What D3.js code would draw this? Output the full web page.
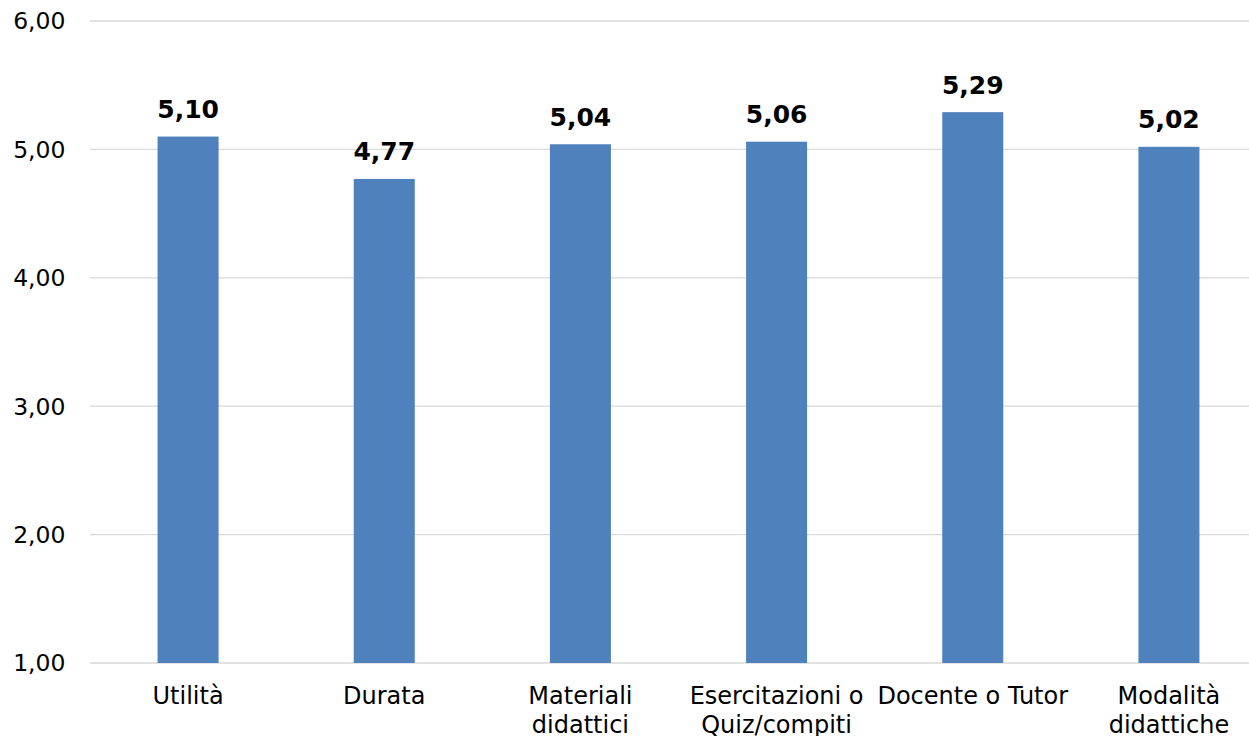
<!DOCTYPE html>
<html><head><meta charset="utf-8">
<script src="https://cdn.jsdelivr.net/npm/d3@7"></script>
<style>body{margin:0;background:#fff;overflow:hidden}svg{display:block}text{font-family:"DejaVu Sans",Verdana,sans-serif}</style>
</head><body>
<svg id="c" width="1249" height="736"></svg>
<script>
const categories = [["Utilità"],["Durata"],["Materiali","didattici"],["Esercitazioni o","Quiz/compiti"],["Docente o Tutor"],["Modalità","didattiche"]];
const values = [5.10, 4.77, 5.04, 5.06, 5.29, 5.02];
const yTicks = [1,2,3,4,5,6];
const fmt = v => v.toFixed(2).replace(".", ",");

const svg = d3.select("#c");
const x = d3.scaleBand().domain(d3.range(categories.length)).range([90, 1267]).paddingInner(0.689).paddingOuter(0.3445);
const y = d3.scaleLinear().domain([1, 6]).range([663, 21]);

svg.append("g").selectAll("line").data(yTicks).join("line")
  .attr("x1", 90).attr("x2", 1267).attr("y1", d => y(d)).attr("y2", d => y(d))
  .attr("stroke", "#d9d9d9").attr("stroke-width", 1.3);

svg.append("g").selectAll("text").data(yTicks).join("text")
  .attr("x", 65.5).attr("y", d => y(d)).attr("dy", "0.36em").attr("text-anchor", "end")
  .attr("font-size", 23.5).attr("fill", "#000").text(d => fmt(d));

svg.append("g").selectAll("rect").data(values).join("rect")
  .attr("x", (d, i) => x(i)).attr("width", x.bandwidth())
  .attr("y", d => y(d)).attr("height", d => y(1) - y(d)).attr("fill", "#4f81bd");

svg.append("g").selectAll("text").data(values).join("text")
  .attr("x", (d, i) => x(i) + x.bandwidth() / 2).attr("y", d => y(d) - 18.5)
  .attr("text-anchor", "middle").attr("font-size", 25).attr("font-weight", "bold")
  .attr("fill", "#000").text(d => fmt(d));

const cl = svg.append("g").selectAll("text").data(categories).join("text")
  .attr("x", (d, i) => x(i) + x.bandwidth() / 2).attr("y", 704)
  .attr("text-anchor", "middle").attr("font-size", 24).attr("fill", "#000");
cl.selectAll("tspan").data(d => d).join("tspan")
  .attr("x", function() { return d3.select(this.parentNode).attr("x"); })
  .attr("dy", (d, j) => j === 0 ? 0 : 28.7).text(d => d);
</script>
</body></html>
